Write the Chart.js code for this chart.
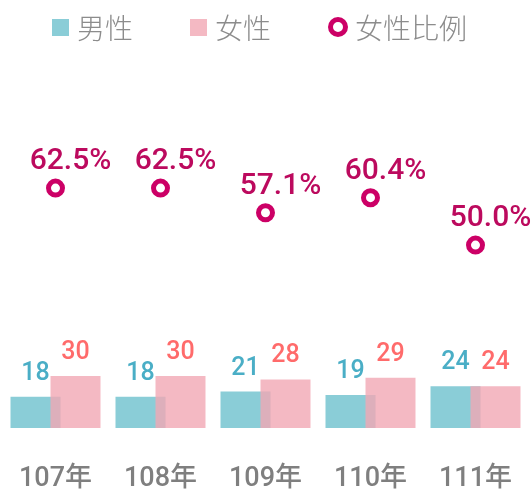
<!DOCTYPE html>
<html>
<head>
<meta charset="utf-8">
<script src="https://cdn.jsdelivr.net/npm/chart.js"></script>
<style>
    body { margin: 0; background: #fff; }
    #wrap { position: relative; width: 531px; height: 490px; }
    #legend {
        position: absolute; top: 10px; left: 52px;
        display: flex; align-items: center; gap: 57px;
        font: 300 28px "Noto Sans CJK TC", sans-serif; color: #8c8c8c;
        line-height: 34px;
    }
    #legend .item { display: flex; align-items: center; gap: 8px; }
    #legend .box { width: 17px; height: 17px; }
    #legend .ring { width: 20px; height: 20px; box-sizing: border-box; border: 5px solid #cc0066; border-radius: 50%; background: #fff; margin-right: -1px; }
</style>
</head>
<body>
<div id="wrap">
    <canvas id="genderChart" width="531" height="490"></canvas>
    <div id="legend"></div>
</div>
<script>
const years = ["107年", "108年", "109年", "110年", "111年"];
const male = [18, 18, 21, 19, 24];
const female = [30, 30, 28, 29, 24];
const femaleRatio = [62.5, 62.5, 57.1, 60.4, 50.0];
const seriesNames = ["男性", "女性", "女性比例"];

// draws the numbers above bars and points
const valueLabels = {
    id: "valueLabels",
    afterDatasetsDraw(chart) {
        const ctx = chart.ctx;
        chart.data.datasets.forEach((ds, i) => {
            const meta = chart.getDatasetMeta(i);
            ctx.save();
            ctx.fillStyle = ds.labelColor;
            ctx.font = ds.labelFont;
            ctx.textAlign = "center";
            ctx.textBaseline = "alphabetic";
            meta.data.forEach((el, j) => {
                const v = ds.data[j];
                const text = ds.type === "line" ? v.toFixed(1) + "%" : String(v);
                ctx.fillText(text, el.x + (ds.labelDx || 0), el.y - ds.labelGap);
            });
            ctx.restore();
        });
    }
};

const ctx = document.getElementById("genderChart").getContext("2d");

// male and female bars use two index axes: chart.js then gives each axis its
// own slot (male left, female right) while `order` puts female on top
const barOpts = { categoryPercentage: 0.762, barPercentage: 1.25 };

new Chart(ctx, {
    data: {
        labels: years,
        datasets: [
            {
                type: "bar",
                label: seriesNames[0],
                data: male,
                backgroundColor: "#8acdd7",
                xAxisID: "x",
                yAxisID: "yBar",
                order: 3,
                ...barOpts,
                labelColor: "#4aaec6",
                labelFont: "500 25px Roboto",
                labelGap: 17
            },
            {
                type: "bar",
                label: seriesNames[1],
                data: female,
                backgroundColor: "rgba(241, 168, 180, 0.8)",
                xAxisID: "xF",
                yAxisID: "yBar",
                order: 2,
                ...barOpts,
                labelColor: "#ff6b6b",
                labelFont: "500 25px Roboto",
                labelGap: 17
            },
            {
                type: "line",
                label: seriesNames[2],
                data: femaleRatio,
                showLine: false,
                pointRadius: 7,
                pointHoverRadius: 7,
                pointBorderWidth: 5,
                pointBackgroundColor: "#fff",
                pointBorderColor: "#cc0066",
                xAxisID: "x",
                yAxisID: "yRatio",
                order: 0,
                labelColor: "#bc0a5e",
                labelFont: "500 30px Roboto",
                labelGap: 19,
                labelDx: 15
            }
        ]
    },
    options: {
        responsive: false,
        animation: false,
        layout: {
            autoPadding: false,
            padding: { top: 70, left: 3, right: 3, bottom: -40 }
        },
        plugins: {
            legend: { display: false },
            tooltip: { enabled: false }
        },
        scales: {
            x: {
                offset: true,
                grid: { display: false, drawTicks: false },
                border: { display: false },
                ticks: {
                    color: "#7f7f7f",
                    padding: 0,
                    font: { family: "Roboto, 'Noto Sans CJK TC'", size: 27, weight: "500", lineHeight: 3.78 }
                }
            },
            xF: {
                type: "category",
                display: false,
                offset: true
            },
            yBar: {
                display: false,
                min: 0,
                max: 206.6
            },
            yRatio: {
                display: false,
                min: 9.9,
                max: 88.4
            }
        }
    },
    plugins: [valueLabels]
});

// html legend
const legend = document.getElementById("legend");
const swatches = ["#8acdd7", "rgba(241, 168, 180, 0.8)", null];
seriesNames.forEach((name, i) => {
    const item = document.createElement("div");
    item.className = "item";
    const mark = document.createElement("span");
    if (swatches[i]) {
        mark.className = "box";
        mark.style.background = swatches[i];
    } else {
        mark.className = "ring";
    }
    const text = document.createElement("span");
    text.textContent = name;
    item.appendChild(mark);
    item.appendChild(text);
    legend.appendChild(item);
});
</script>
</body>
</html>
